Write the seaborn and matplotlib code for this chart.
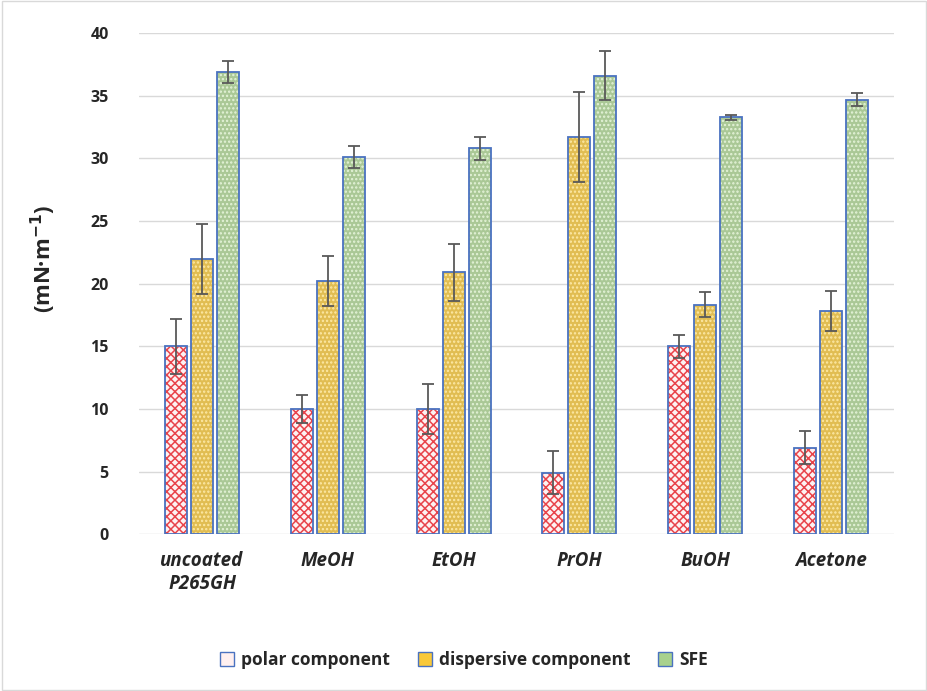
import matplotlib
matplotlib.use("Agg")
import matplotlib.pyplot as plt
import seaborn as sns
import pandas as pd
import numpy as np
from matplotlib.patches import Rectangle

categories = ["uncoated\nP265GH", "MeOH", "EtOH", "PrOH", "BuOH", "Acetone"]
series = ["polar component", "dispersive component", "SFE"]
polar = [15.0, 10.0, 10.0, 4.9, 15.0, 6.9]
polar_err = [2.2, 1.1, 2.0, 1.7, 0.9, 1.3]
dispersive = [22.0, 20.2, 20.9, 31.7, 18.3, 17.8]
dispersive_err = [2.8, 2.0, 2.3, 3.6, 1.0, 1.6]
sfe = [36.9, 30.1, 30.8, 36.6, 33.3, 34.7]
sfe_err = [0.9, 0.9, 0.9, 1.95, 0.2, 0.5]

df = pd.DataFrame({
    "category": categories * 3,
    "series": [series[0]] * 6 + [series[1]] * 6 + [series[2]] * 6,
    "value": polar + dispersive + sfe,
    "err": polar_err + dispersive_err + sfe_err,
})

sns.set_style("white")
plt.rcParams['font.family'] = ['Open Sans', 'DejaVu Sans']
plt.rcParams['hatch.linewidth'] = 1.1

fig = plt.figure(figsize=(9.28, 6.91), dpi=100)
ax = fig.add_axes([0.15, 0.227, 0.813, 0.725])

face = {"polar component": "#fff0f0", "dispersive component": "#f9c93a", "SFE": "#a8d18d"}
hatchc = {"polar component": "#e8434a", "dispersive component": "#fde9a6", "SFE": "#e4f3d8"}
hatches = {"polar component": "xxxx", "dispersive component": "....", "SFE": "...."}

sns.barplot(data=df, x="category", y="value", hue="series", order=categories,
            hue_order=series, palette=face, width=0.62, gap=0.15,
            errorbar=None, ax=ax, legend=False, zorder=2)

ax.set_ylim(0, 40)
ax.set_xlim(-0.5, len(categories) - 0.5)

edge_blue = "#4a72c0"
bars = [p for p in ax.patches if isinstance(p, Rectangle)]
for i, s in enumerate(series):
    sub = df[df.series == s]
    for j in range(len(categories)):
        p = bars[i * len(categories) + j]
        p.set_hatch(hatches[s])
        p.set_edgecolor(hatchc[s])
        p.set_linewidth(0)
        x, w, h = p.get_x(), p.get_width(), p.get_height()
        ax.add_patch(Rectangle((x, 0), w, h, fill=False, edgecolor=edge_blue,
                               linewidth=1.3, zorder=3))
        ax.errorbar(x + w / 2, sub["value"].iloc[j], yerr=sub["err"].iloc[j],
                    fmt="none", ecolor="#595959", elinewidth=1.3, capsize=4,
                    capthick=1.3, zorder=4)

ax.set_yticks(np.arange(0, 41, 5))
ax.yaxis.grid(True, color="#d9d9d9", linewidth=1.0, zorder=0)
ax.set_axisbelow(True)
for sp in ax.spines.values():
    sp.set_visible(False)
ax.tick_params(axis="both", length=0)
ax.tick_params(axis="y", pad=22, labelsize=11.5, labelcolor="#262626")
ax.tick_params(axis="x", pad=12, labelsize=13.5, labelcolor="#262626")
for t in ax.get_yticklabels():
    t.set_fontweight("bold")
for t in ax.get_xticklabels():
    t.set_fontweight("bold")
    t.set_fontstyle("italic")
ax.set_xlabel("")
ax.set_ylabel("(mN·m$^{\\mathbf{-1}}$)", fontsize=16, fontweight="bold", color="#262626")
ax.yaxis.set_label_coords(-0.108, 0.55)

handles = []
for s in series:
    handles.append(Rectangle((0, 0), 1, 1, facecolor=face[s], edgecolor=edge_blue,
                             linewidth=1.0))
leg = fig.legend(handles, series, loc="center", bbox_to_anchor=(0.5, 0.045), ncol=3,
                 frameon=False, fontsize=12.5, handlelength=0.8, handleheight=0.8,
                 columnspacing=1.6, handletextpad=0.4)
for t in leg.get_texts():
    t.set_fontweight("bold")
    t.set_color("#262626")

fig.patches.append(Rectangle((0.002, 0.002), 0.996, 0.996, transform=fig.transFigure,
                             fill=False, edgecolor="#d9d9d9", linewidth=1))

fig.savefig("out.png", dpi=100)
